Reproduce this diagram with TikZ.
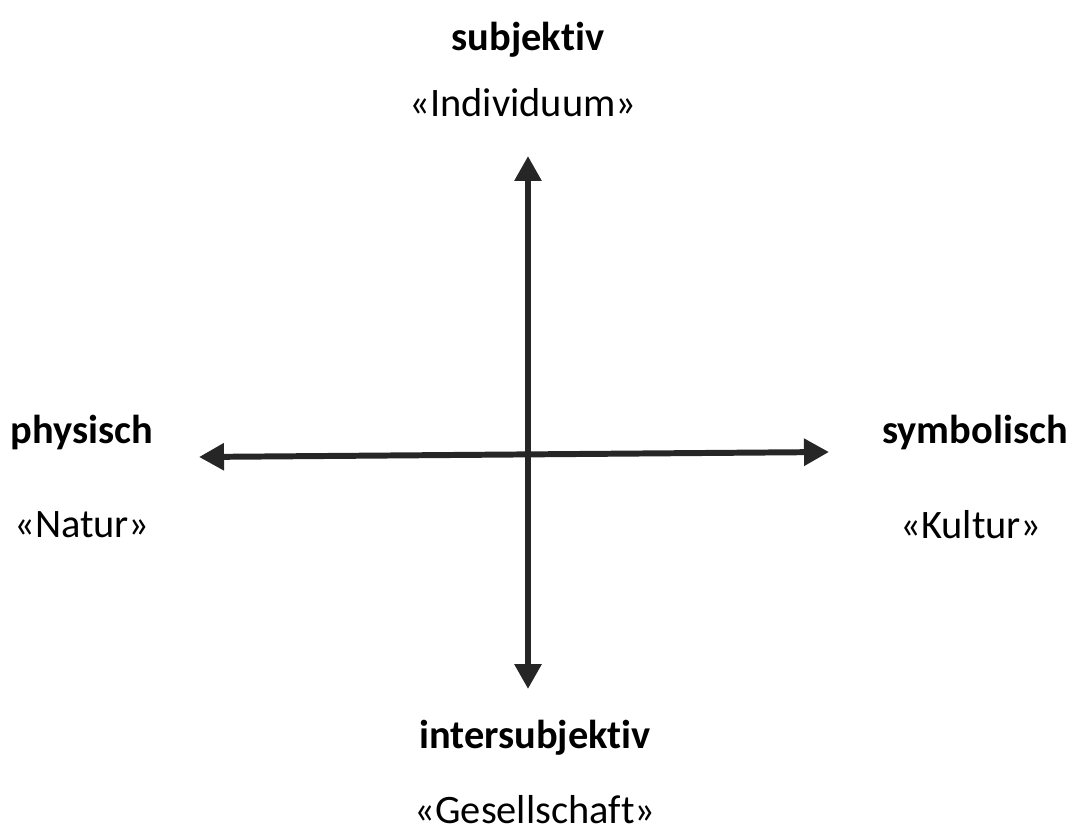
\documentclass[tikz,border=0pt]{standalone}
\usepackage{fontspec}
\setmainfont[Ligatures={NoCommon}]{Carlito}
\usetikzlibrary{arrows.meta}
\begin{document}
\begin{tikzpicture}[x=0.02cm,y=-0.02cm,
	axis/.style={line width=3.4pt, draw=black!85, {Triangle[length=0.5cm,width=0.52cm]}-{Triangle[length=0.5cm,width=0.52cm]}},
	title/.style={inner sep=0, font=\fontsize{23}{28}\selectfont\bfseries},
	label/.style={inner sep=0, font=\fontsize{23}{28}\selectfont}]
	\useasboundingbox (0,0) rectangle (1076,839);
	\node[title] (subj) at (528,40) {subjektiv};
	\node[label] (indiv) at (523,103) {«Individuum»};
	\node[title] (phys) at (82,432) {physisch};
	\node[label] (natur) at (82,525) {«Natur»};
	\node[title] (symb) at (975,432) {symbolisch};
	\node[label] (kultur) at (971,525) {«Kultur»};
	\node[title] (inter) at (535,738) {intersubjektiv};
	\node[label] (gesell) at (535,810) {«Gesellschaft»};
	\coordinate (top) at (528,156);
	\coordinate (bottom) at (528,689);
	\coordinate (left) at (199,457);
	\coordinate (right) at (829,452);
	\draw[axis] (top) -- (bottom);
	\draw[axis] (left) -- (right);
\end{tikzpicture}
\end{document}
